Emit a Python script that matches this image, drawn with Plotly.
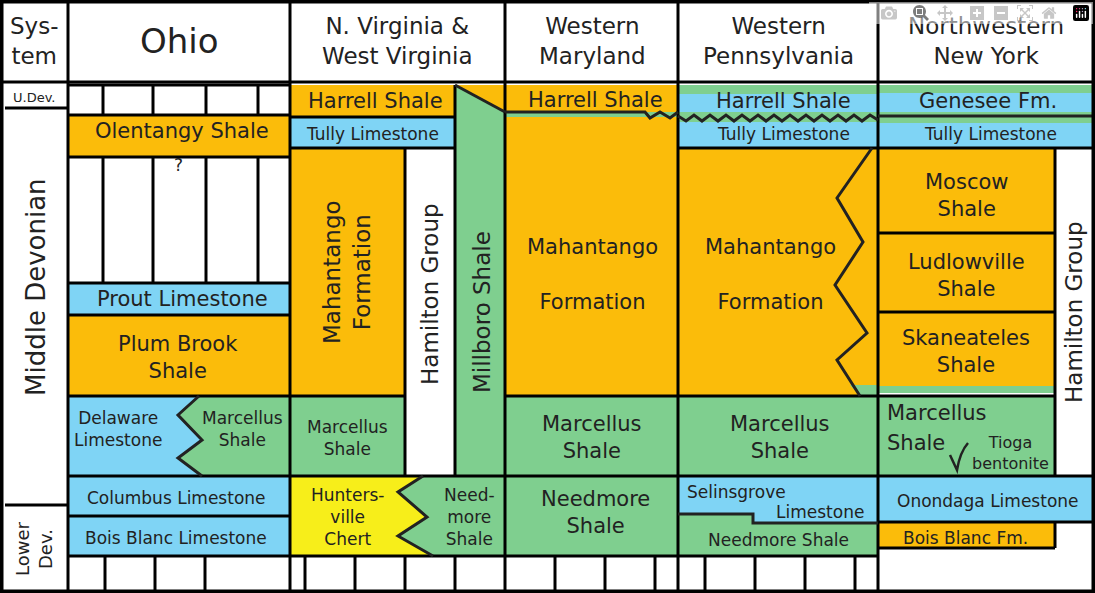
import plotly.graph_objects as go

OR = "#FBBC0A"; BL = "#7FD4F5"; GR = "#7FCF8F"; YE = "#F7EE1A"; WH = "#FFFFFF"

# rectangular units: x0, x1, y0 (top), y1 (bottom), color
rect_units = [
    (68, 290, 115, 157, OR), (68, 290, 283, 315, BL), (68, 290, 315, 396, OR),
    (68, 290, 396, 476, BL), (68, 290, 476, 516, BL), (68, 290, 516, 556, BL),
    (290, 455, 85, 117, OR), (290, 455, 117, 148, BL), (290, 405, 148, 396, OR),
    (405, 455, 148, 476, WH), (290, 405, 396, 476, GR), (290, 505, 476, 556, GR),
    (505, 678, 85, 112, OR), (505, 678, 112, 117, GR), (505, 678, 117, 396, OR),
    (505, 678, 396, 476, GR), (505, 678, 476, 556, GR),
    (678, 878, 85, 122, GR), (678, 878, 94, 112, BL), (678, 878, 122, 148, BL),
    (678, 878, 148, 396, OR), (678, 878, 396, 476, GR), (678, 878, 476, 556, GR),
    (878, 1095, 85, 123, GR), (878, 1095, 93, 112, BL), (878, 1095, 123, 148, BL),
    (878, 1055, 148, 233, OR), (878, 1055, 233, 312, OR), (878, 1055, 312, 393, OR),
    (878, 1055, 386, 393, GR), (1055, 1095, 148, 476, WH),
    (878, 1055, 396, 476, GR), (878, 1095, 476, 522, BL), (878, 1055, 522, 548, OR),
]
# polygon units: list of (x,y) points, color
poly_units = [
    ([(68, 396), (199, 396), (178, 415), (202, 440), (178, 458), (202, 476), (68, 476)], BL),
    ([(199, 396), (290, 396), (290, 476), (202, 476), (178, 458), (202, 440), (178, 415)], GR),
    ([(290, 476), (423, 476), (398, 492), (427, 517), (398, 536), (433, 556), (290, 556)], YE),
    ([(455, 85), (505, 112), (505, 476), (455, 476)], GR),
    ([(455, 85), (505, 85), (505, 112)], OR),
    ([(678, 476), (878, 476), (878, 523), (753, 523), (753, 514), (678, 514)], BL),
    ([(850, 385), (878, 385), (878, 396), (860, 396)], GR),
]
# black boundary polylines
lines = [
    [(423, 476), (398, 492), (427, 517), (398, 536), (433, 556)],
    [(199, 396), (178, 415), (202, 440), (178, 458), (202, 476)],
    [(455, 85), (505, 112)],
    [(872, 148), (837, 198), (863, 242), (835, 285), (867, 333), (837, 360), (860, 396)],
    [(678, 514), (753, 514), (753, 523), (878, 523)],
    [(505, 112), (645, 112), (650, 118), (660, 112), (670, 118), (678, 112)],
    [(678, 116), (686, 121), (694, 115), (702, 121), (710, 115), (718, 121), (726, 115), (734, 121),
     (742, 115), (750, 121), (758, 115), (766, 121), (774, 115), (782, 121), (790, 115), (798, 121),
     (806, 115), (814, 121), (822, 115), (830, 121), (838, 115), (846, 121), (854, 115), (862, 121),
     (870, 115), (878, 120)],
    [(878, 116), (1095, 116)],
]

labels = [  # text, x, y, size, angle
    ("Sys-<br>tem", 34, 41, 23, 0), ("Ohio", 179, 41, 34, 0),
    ("N. Virginia &<br>West Virginia", 397, 41, 23, 0), ("Western<br>Maryland", 592, 41, 23, 0),
    ("Western<br>Pennsylvania", 778, 41, 23, 0), ("Northwestern<br>New York", 986, 41, 23, 0),
    ("U.Dev.", 34, 97, 13, 0), ("Middle Devonian", 36, 287, 26, -90), ("Lower<br>Dev.", 34, 549, 18, -90),
    ("Olentangy Shale", 182, 131, 21, 0), ("?", 178, 165, 17, 0),
    ("Prout Limestone", 182, 299, 21, 0), ("Plum Brook<br>Shale", 178, 357, 21, 0),
    ("Delaware<br>Limestone", 118, 429, 17, 0), ("Marcellus<br>Shale", 242, 429, 17, 0),
    ("Columbus Limestone", 176, 498, 17, 0), ("Bois Blanc Limestone", 176, 538, 17, 0),
    ("Harrell Shale", 375, 101, 21, 0), ("Tully Limestone", 372, 134, 17, 0),
    ("Mahantango<br>Formation", 347, 272, 23, -90), ("Hamilton Group", 430, 294, 23, -90),
    ("Millboro Shale", 482, 312, 23, -90), ("Marcellus<br>Shale", 347, 438, 17, 0),
    ("Hunters-<br>ville<br>Chert", 347, 517, 17, 0), ("Need-<br>more<br>Shale", 469, 517, 17, 0),
    ("Harrell Shale", 595, 100, 21, 0), ("Mahantango<br><br>Formation", 592, 274, 21, 0),
    ("Marcellus<br>Shale", 592, 437, 21, 0), ("Needmore<br>Shale", 595, 512, 21, 0),
    ("Harrell Shale", 783, 101, 21, 0), ("Tully Limestone", 783, 134, 17, 0),
    ("Mahantango<br><br>Formation", 770, 274, 21, 0), ("Marcellus<br>Shale", 780, 437, 21, 0),
    ("Selinsgrove", 736, 492, 17, 0), ("Limestone", 820, 512, 17, 0), ("Needmore Shale", 778, 540, 17, 0),
    ("Genesee Fm.", 988, 101, 21, 0), ("Tully Limestone", 990, 134, 17, 0),
    ("Moscow<br>Shale", 966, 195, 21, 0), ("Ludlowville<br>Shale", 966, 275, 21, 0),
    ("Skaneateles<br>Shale", 966, 351, 21, 0), ("Hamilton Group", 1074, 312, 23, -90),
    ("Marcellus", 937, 413, 21, 0), ("Shale", 916, 443, 21, 0),
    ("Tioga<br>bentonite", 1010, 453, 16, 0), ("Onondaga Limestone", 988, 501, 17, 0),
    ("Bois Blanc Fm.", 965, 538, 17, 0),
]

fig = go.Figure()
shapes = []
LW = 3
for x0, x1, y0, y1, c in rect_units:
    shapes.append(dict(type="rect", x0=x0, x1=x1, y0=y0, y1=y1, fillcolor=c, line=dict(width=0), layer="below"))
for pts, c in poly_units:
    p = "M " + " L ".join(f"{x},{y}" for x, y in pts) + " Z"
    shapes.append(dict(type="path", path=p, fillcolor=c, line=dict(width=0), layer="below"))

def seg(x0, y0, x1, y1, w=LW):
    shapes.append(dict(type="line", x0=x0, y0=y0, x1=x1, y1=y1, line=dict(color="black", width=w)))

hlines = [(0, 1095, 82), (68, 290, 85), (68, 290, 115), (68, 290, 157), (68, 290, 283), (68, 290, 315),
          (68, 290, 396), (68, 290, 476), (68, 290, 516), (68, 878, 556), (290, 455, 117), (290, 455, 148),
          (290, 405, 396), (290, 505, 476), (505, 678, 396), (505, 678, 476), (678, 878, 148),
          (678, 878, 396), (678, 878, 476), (878, 1095, 148), (878, 1055, 233), (878, 1055, 312),
          (878, 1055, 396), (878, 1095, 476), (878, 1095, 522), (878, 1055, 548), (5, 67, 108), (5, 67, 505)]
vlines = [(68, 0, 593), (290, 0, 593), (505, 0, 593), (678, 0, 593), (878, 0, 593), (405, 148, 476),
          (455, 85, 476), (1055, 148, 476), (1055, 522, 548)]
for x in (103, 153, 206, 258):
    vlines += [(x, 85, 115), (x, 157, 283)]
for x in range(105, 878, 50):
    if x not in (255, 505):
        vlines.append((x, 556, 593))
for x0, x1, y in hlines:
    seg(x0, y, x1, y)
for x, y0, y1 in vlines:
    seg(x, y0, x, y1)
for pts in lines:
    p = "M " + " L ".join(f"{x},{y}" for x, y in pts)
    shapes.append(dict(type="path", path=p, line=dict(color="#222", width=LW)))
shapes.append(dict(type="path", path="M 950,455 L 957,470 Q 960,452 968,443", line=dict(color="#222", width=2.5)))
shapes.append(dict(type="rect", x0=1, y0=1, x1=1094, y1=592, line=dict(color="black", width=5)))

for t, x, y, s, a in labels:
    fig.add_annotation(x=x, y=y, text=t, showarrow=False, textangle=a,
                       font=dict(family="DejaVu Sans", size=s, color="#222"))

fig.update_layout(width=1095, height=593, margin=dict(l=0, r=0, t=0, b=0),
                  plot_bgcolor="white", paper_bgcolor="white", shapes=shapes, showlegend=False)
fig.update_xaxes(range=[0, 1095], visible=False)
fig.update_yaxes(range=[593, 0], visible=False)
fig.write_html("out.html", post_script="document.body.style.margin='0';document.body.style.overflow='hidden';")
